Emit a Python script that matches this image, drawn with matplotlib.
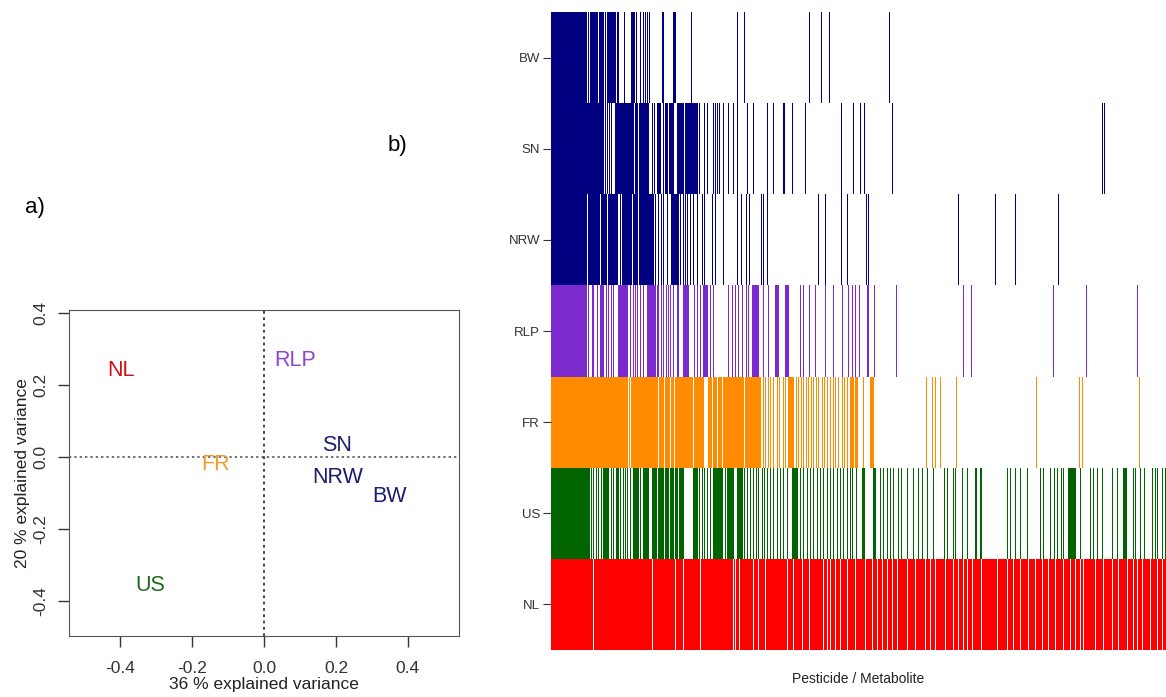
import numpy as np
import matplotlib
matplotlib.use("Agg")
import matplotlib.pyplot as plt

plt.rcParams['font.family'] = ['Liberation Sans', 'DejaVu Sans']
plt.rcParams['axes.unicode_minus'] = False

# ---- panel a: ordination scores ----
regions = ["NL", "RLP", "SN", "NRW", "BW", "FR", "US"]
pc1 = [-0.397, 0.086, 0.202, 0.206, 0.348, -0.134, -0.317]
pc2 = [0.239, 0.269, 0.031, -0.056, -0.111, -0.022, -0.358]
text_colors = ["#CC1111", "#8E44D0", "#1C1C6E", "#1C1C6E", "#1C1C6E", "#EE9A2E", "#1E6B1E"]

# ---- panel b: detected compounds per region (column index, inclusive runs) ----
n_compounds = 615
row_names = ["NL", "US", "FR", "RLP", "NRW", "SN", "BW"]
row_colors = ["#FF0000", "#006400", "#FF8C00", "#7B2ACD", "#000080", "#000080", "#000080"]

bw_runs = [(0, 34), (35, 35), (37, 37), (39, 45), (46, 46), (48, 52), (54, 54), (56, 64),
           (66, 66), (67, 67), (73, 73), (80, 83), (85, 85), (89, 89), (92, 92), (94, 94),
           (96, 96), (98, 98), (111, 112), (122, 124), (140, 140), (186, 186), (193, 193),
           (258, 258), (270, 270), (278, 278), (338, 338)]
sn_runs = [(0, 52), (54, 54), (56, 56), (58, 58), (60, 60), (64, 82), (84, 86), (88, 97),
           (101, 101), (103, 103), (106, 106), (107, 109), (112, 112), (114, 116), (118, 122),
           (126, 132), (134, 146), (148, 148), (153, 153), (156, 156), (162, 162), (164, 164),
           (166, 166), (168, 168), (172, 172), (177, 177), (182, 182), (186, 186), (196, 196),
           (202, 202), (216, 216), (222, 222), (232, 233), (241, 241), (254, 254), (290, 290),
           (302, 302), (309, 309), (313, 313), (341, 341), (551, 551), (553, 553)]
nrw_runs = [(0, 35), (37, 48), (50, 55), (57, 66), (69, 69), (71, 80), (82, 86), (88, 102),
            (104, 104), (107, 107), (110, 110), (112, 112), (116, 116), (120, 126), (127, 127),
            (129, 129), (132, 132), (134, 134), (136, 136), (139, 139), (142, 142), (146, 146),
            (151, 151), (153, 153), (161, 161), (164, 164), (172, 172), (186, 186), (190, 190),
            (195, 195), (198, 198), (210, 210), (212, 212), (216, 216), (267, 267), (274, 274),
            (290, 290), (296, 296), (315, 315), (317, 317), (407, 407), (444, 444), (464, 464),
            (507, 507)]
rlp_runs = [(0, 35), (37, 37), (41, 42), (46, 46), (49, 52), (55, 55), (57, 57), (60, 60),
            (62, 62), (67, 76), (79, 79), (82, 82), (84, 84), (86, 86), (89, 89), (92, 92),
            (96, 104), (106, 106), (107, 107), (110, 110), (112, 112), (115, 115), (117, 117),
            (119, 119), (122, 122), (126, 127), (132, 137), (143, 143), (146, 146), (149, 149),
            (152, 156), (159, 159), (162, 162), (177, 177), (181, 181), (184, 184), (187, 187),
            (191, 191), (195, 195), (197, 197), (201, 207), (212, 212), (217, 217), (224, 227),
            (234, 237), (249, 249), (252, 252), (258, 258), (264, 264), (274, 274), (282, 282),
            (291, 291), (297, 297), (301, 301), (304, 304), (308, 308), (316, 317), (323, 323),
            (345, 345), (412, 412), (420, 420), (502, 502), (535, 535), (586, 586)]
fr_runs = [(0, 76), (78, 78), (80, 86), (87, 101), (102, 106), (108, 112), (114, 118),
           (120, 122), (124, 141), (143, 143), (144, 152), (157, 160), (162, 165), (167, 170),
           (172, 176), (177, 192), (194, 209), (212, 212), (214, 214), (217, 217), (219, 219),
           (222, 222), (226, 226), (228, 228), (232, 232), (234, 234), (237, 242), (245, 245),
           (247, 247), (250, 250), (252, 252), (255, 255), (257, 257), (260, 260), (262, 262),
           (265, 265), (267, 267), (271, 271), (273, 273), (276, 276), (279, 279), (282, 282),
           (284, 284), (287, 287), (291, 291), (293, 293), (296, 296), (299, 302), (304, 306),
           (312, 312), (319, 322), (375, 375), (381, 381), (384, 384), (389, 389), (405, 405),
           (485, 485), (528, 528), (531, 531), (588, 588)]
us_runs = [(0, 38), (40, 40), (42, 42), (45, 45), (47, 47), (50, 50), (52, 56), (57, 57),
           (60, 60), (62, 62), (65, 67), (69, 69), (72, 72), (74, 74), (76, 76), (79, 79),
           (82, 87), (89, 89), (92, 96), (97, 97), (101, 105), (107, 112), (114, 117),
           (119, 122), (124, 126), (128, 128), (129, 132), (142, 146), (148, 148), (151, 151),
           (153, 153), (156, 156), (159, 159), (162, 171), (174, 174), (176, 182), (186, 191),
           (193, 193), (196, 196), (199, 199), (202, 202), (205, 205), (207, 207), (211, 211),
           (213, 213), (216, 216), (219, 219), (222, 222), (226, 226), (229, 229), (232, 232),
           (236, 236), (241, 246), (249, 249), (252, 252), (256, 256), (259, 259), (262, 262),
           (266, 266), (269, 269), (272, 272), (276, 276), (279, 279), (282, 282), (286, 286),
           (289, 289), (292, 292), (296, 296), (299, 299), (301, 301), (305, 305), (311, 313),
           (322, 324), (329, 329), (332, 332), (336, 336), (339, 339), (342, 342), (347, 347),
           (350, 350), (356, 356), (362, 362), (367, 367), (371, 371), (376, 376), (382, 382),
           (393, 393), (396, 396), (402, 402), (404, 404), (411, 411), (416, 416), (424, 425),
           (429, 430), (456, 456), (459, 459), (464, 464), (469, 469), (476, 476), (489, 489),
           (492, 492), (499, 499), (503, 503), (506, 506), (510, 510), (512, 512), (517, 524),
           (529, 529), (539, 539), (542, 542), (546, 546), (551, 551), (561, 561), (566, 566),
           (572, 575), (582, 582), (584, 584), (589, 589), (593, 593), (601, 601), (604, 604),
           (606, 606), (611, 611), (614, 614)]
# NL: almost everything detected, these columns are the gaps
nl_gaps = [42, 101, 124, 132, 149, 182, 184, 188, 202, 207, 214, 236, 242, 251, 258, 272,
           276, 279, 284, 289, 296, 304, 314, 321, 326, 331, 336, 341, 346, 356, 364, 374,
           379, 384, 394, 402, 407, 412, 416, 421, 430, 446, 456, 462, 469, 477, 484, 491,
           497, 504, 512, 519, 524, 529, 532, 544, 552, 561, 567, 576, 582, 586, 591, 599,
           606, 611]


def gaps_to_runs(gaps, n):
    runs = []
    start = 0
    for g in sorted(gaps):
        if g > start:
            runs.append((start, g - 1))
        start = g + 1
    if start < n:
        runs.append((start, n - 1))
    return runs


nl_runs = gaps_to_runs(nl_gaps, n_compounds)
all_runs = [nl_runs, us_runs, fr_runs, rlp_runs, nrw_runs, sn_runs, bw_runs]

fig = plt.figure(figsize=(11.66, 6.97), dpi=100)

# ---------------- a) ----------------
ax1 = fig.add_axes([69 / 1166, 1 - 636 / 697, 390 / 1166, 326 / 697])
ax1.set_xlim(-0.542, 0.542)
ax1.set_ylim(-0.497, 0.408)
ax1.axhline(0, ls=(0, (1.5, 2)), color='#444444', lw=1.1)
ax1.axvline(0, ls=(0, (1.5, 2)), color='#333333', lw=1.3)
for lbl, x, y, c in zip(regions, pc1, pc2, text_colors):
    ax1.text(x, y, lbl, color=c, fontsize=15.5, ha='center', va='center')

ticks = [-0.4, -0.2, 0.0, 0.2, 0.4]
ax1.set_xticks(ticks)
ax1.set_xticklabels(["%.1f" % t for t in ticks])
ax1.set_yticks(ticks)
ax1.set_yticklabels(["%.1f" % t for t in ticks], rotation=90, va='center')
ax1.tick_params(length=8, width=1, pad=7, labelsize=12.5, colors='#333333')
ax1.tick_params(axis='x', pad=10)
for s in ax1.spines.values():
    s.set_color('#555555')
ax1.set_xlabel('36 % explained variance', fontsize=12.5, labelpad=1, color='#222222')
ax1.set_ylabel('20 % explained variance', fontsize=12.5, labelpad=2, color='#222222')

# ---------------- b) ----------------
ax2 = fig.add_axes([551 / 1166, 1 - 650 / 697, 615 / 1166, 638 / 697])
for i, (runs, col) in enumerate(zip(all_runs, row_colors)):
    for a, b in runs:
        if a == b:
            # single compound -> thin line
            ax2.broken_barh([(a + 0.2, 0.6)], (i, 1), facecolors=col, linewidth=0)
        else:
            ax2.broken_barh([(a, b - a + 1)], (i, 1), facecolors=col, linewidth=0)

ax2.set_xlim(0, n_compounds)
ax2.set_ylim(0, 7)
for s in ax2.spines.values():
    s.set_visible(False)
ax2.set_xticks([])
ax2.set_yticks(np.arange(7) + 0.5)
ax2.set_yticklabels(row_names)
ax2.tick_params(axis='y', length=6, width=0.8, pad=2, labelsize=9.5, colors='#333333')
ax2.set_xlabel('Pesticide / Metabolite', fontsize=10, labelpad=16, color='#222222')

fig.text(25 / 1166, 1 - 207 / 697, 'a)', fontsize=16, ha='left', va='center')
fig.text(388 / 1166, 1 - 145 / 697, 'b)', fontsize=16, ha='left', va='center')

fig.savefig('out.png', dpi=100)
